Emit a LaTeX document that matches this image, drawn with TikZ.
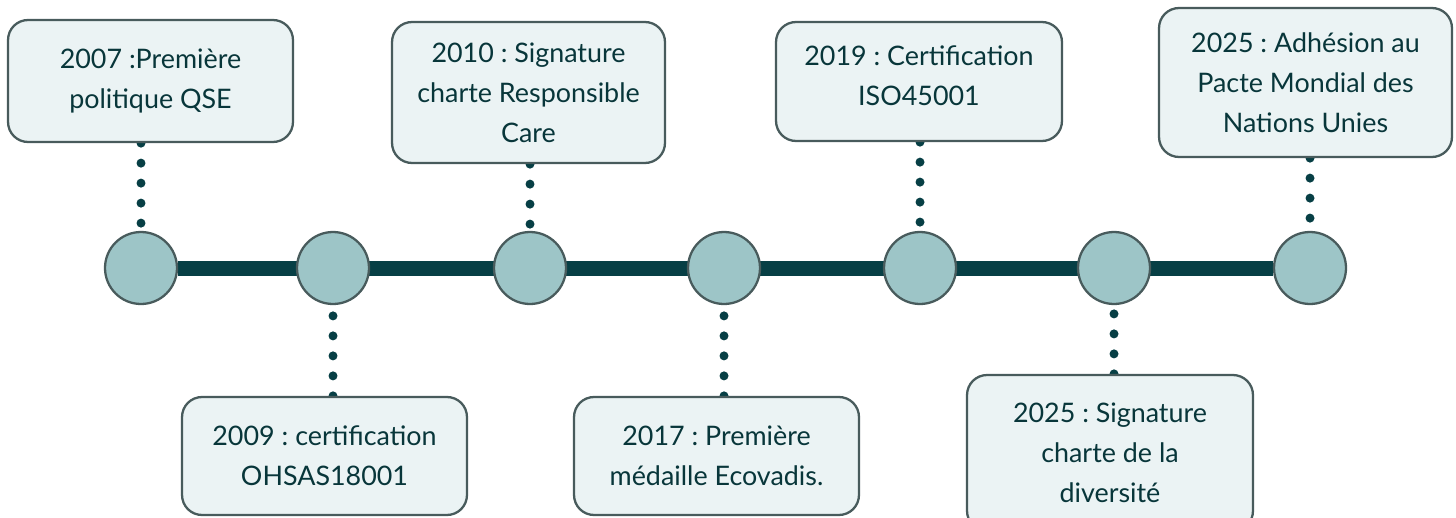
\documentclass[tikz,border=0pt]{standalone}
\usepackage{fontspec}
\setmainfont{Lato}
\usepackage{xcolor}
\usetikzlibrary{backgrounds,positioning}
\frenchspacing
\definecolor{boxfill}{HTML}{EBF3F4}
\definecolor{boxline}{HTML}{485B5C}
\definecolor{dotfill}{HTML}{9DC5C7}
\definecolor{linecol}{HTML}{073F45}
\definecolor{textcol}{HTML}{08363A}
\tikzset{%
	event/.style     = {draw=boxline, line width=1.3pt, fill=boxfill, rounded corners=0.4cm, text=textcol, align=center, inner sep=0pt, font=\fontsize{15.3}{22.8}\selectfont},
	milestone/.style = {circle, draw=boxline, line width=1.3pt, fill=dotfill, minimum size=1.44cm, inner sep=0pt},
	link/.style      = {draw=linecol, line width=0.18cm, line cap=round, dash pattern=on 0pt off 0.4cm},
	axis/.style      = {draw=linecol, line width=0.3cm},
}
\begin{document}
\begin{tikzpicture}[x=0.02cm,y=-0.02cm]
	\useasboundingbox (0,0) rectangle (1456,517);
	% jalons sur la ligne du temps
	\node[milestone] (c1) at (141,268) {};
	\node[milestone] (c2) at (333,268) {};
	\node[milestone] (c3) at (530,268) {};
	\node[milestone] (c4) at (724,268) {};
	\node[milestone] (c5) at (920,268) {};
	\node[milestone] (c6) at (1114,268) {};
	\node[milestone] (c7) at (1310,268) {};
	
	% evenements
	\node[event, minimum width=5.7cm, minimum height=2.44cm] (e2007) at (150.5,81) {2007 :Première\\politique QSE};
	\node[event, minimum width=5.7cm, minimum height=2.36cm] (e2009) at (324.5,456) {2009 : certification\\OHSAS18001};
	\node[event, minimum width=5.46cm, minimum height=2.82cm] (e2010) at (528.5,92.5) {2010 : Signature\\charte Responsible\\Care};
	\node[event, minimum width=5.7cm, minimum height=2.36cm] (e2017) at (716.5,456) {2017 : Première\\médaille Ecovadis.};
	\node[event, minimum width=5.72cm, minimum height=2.38cm, text depth=0.22cm] (e2019) at (919,81.5) {2019 : Certification\\ISO45001};
	\node[event, minimum width=5.72cm, minimum height=3.12cm] (e2025a) at (1110,453) {2025 : Signature\\charte de la\\diversité};
	\node[event, minimum width=5.86cm, minimum height=2.98cm] (e2025b) at (1305.5,82.5) {2025 : Adhésion au\\Pacte Mondial des\\Nations Unies};
	
	\begin{scope}[on background layer]
		\draw[axis] (c1) -- (c7);
		\draw[link] (e2007.south -| c1) -- (c1.north);
		\draw[link] (e2009.north -| c2) -- (c2.south);
		\draw[link] (e2010.south -| c3) -- (c3.north);
		\draw[link] (e2017.north -| c4) -- (c4.south);
		\draw[link] (e2019.south -| c5) -- (c5.north);
		\draw[link] (e2025a.north -| c6) -- (c6.south);
		\draw[link] (e2025b.south -| c7) -- (c7.north);
	\end{scope}
\end{tikzpicture}
\end{document}
